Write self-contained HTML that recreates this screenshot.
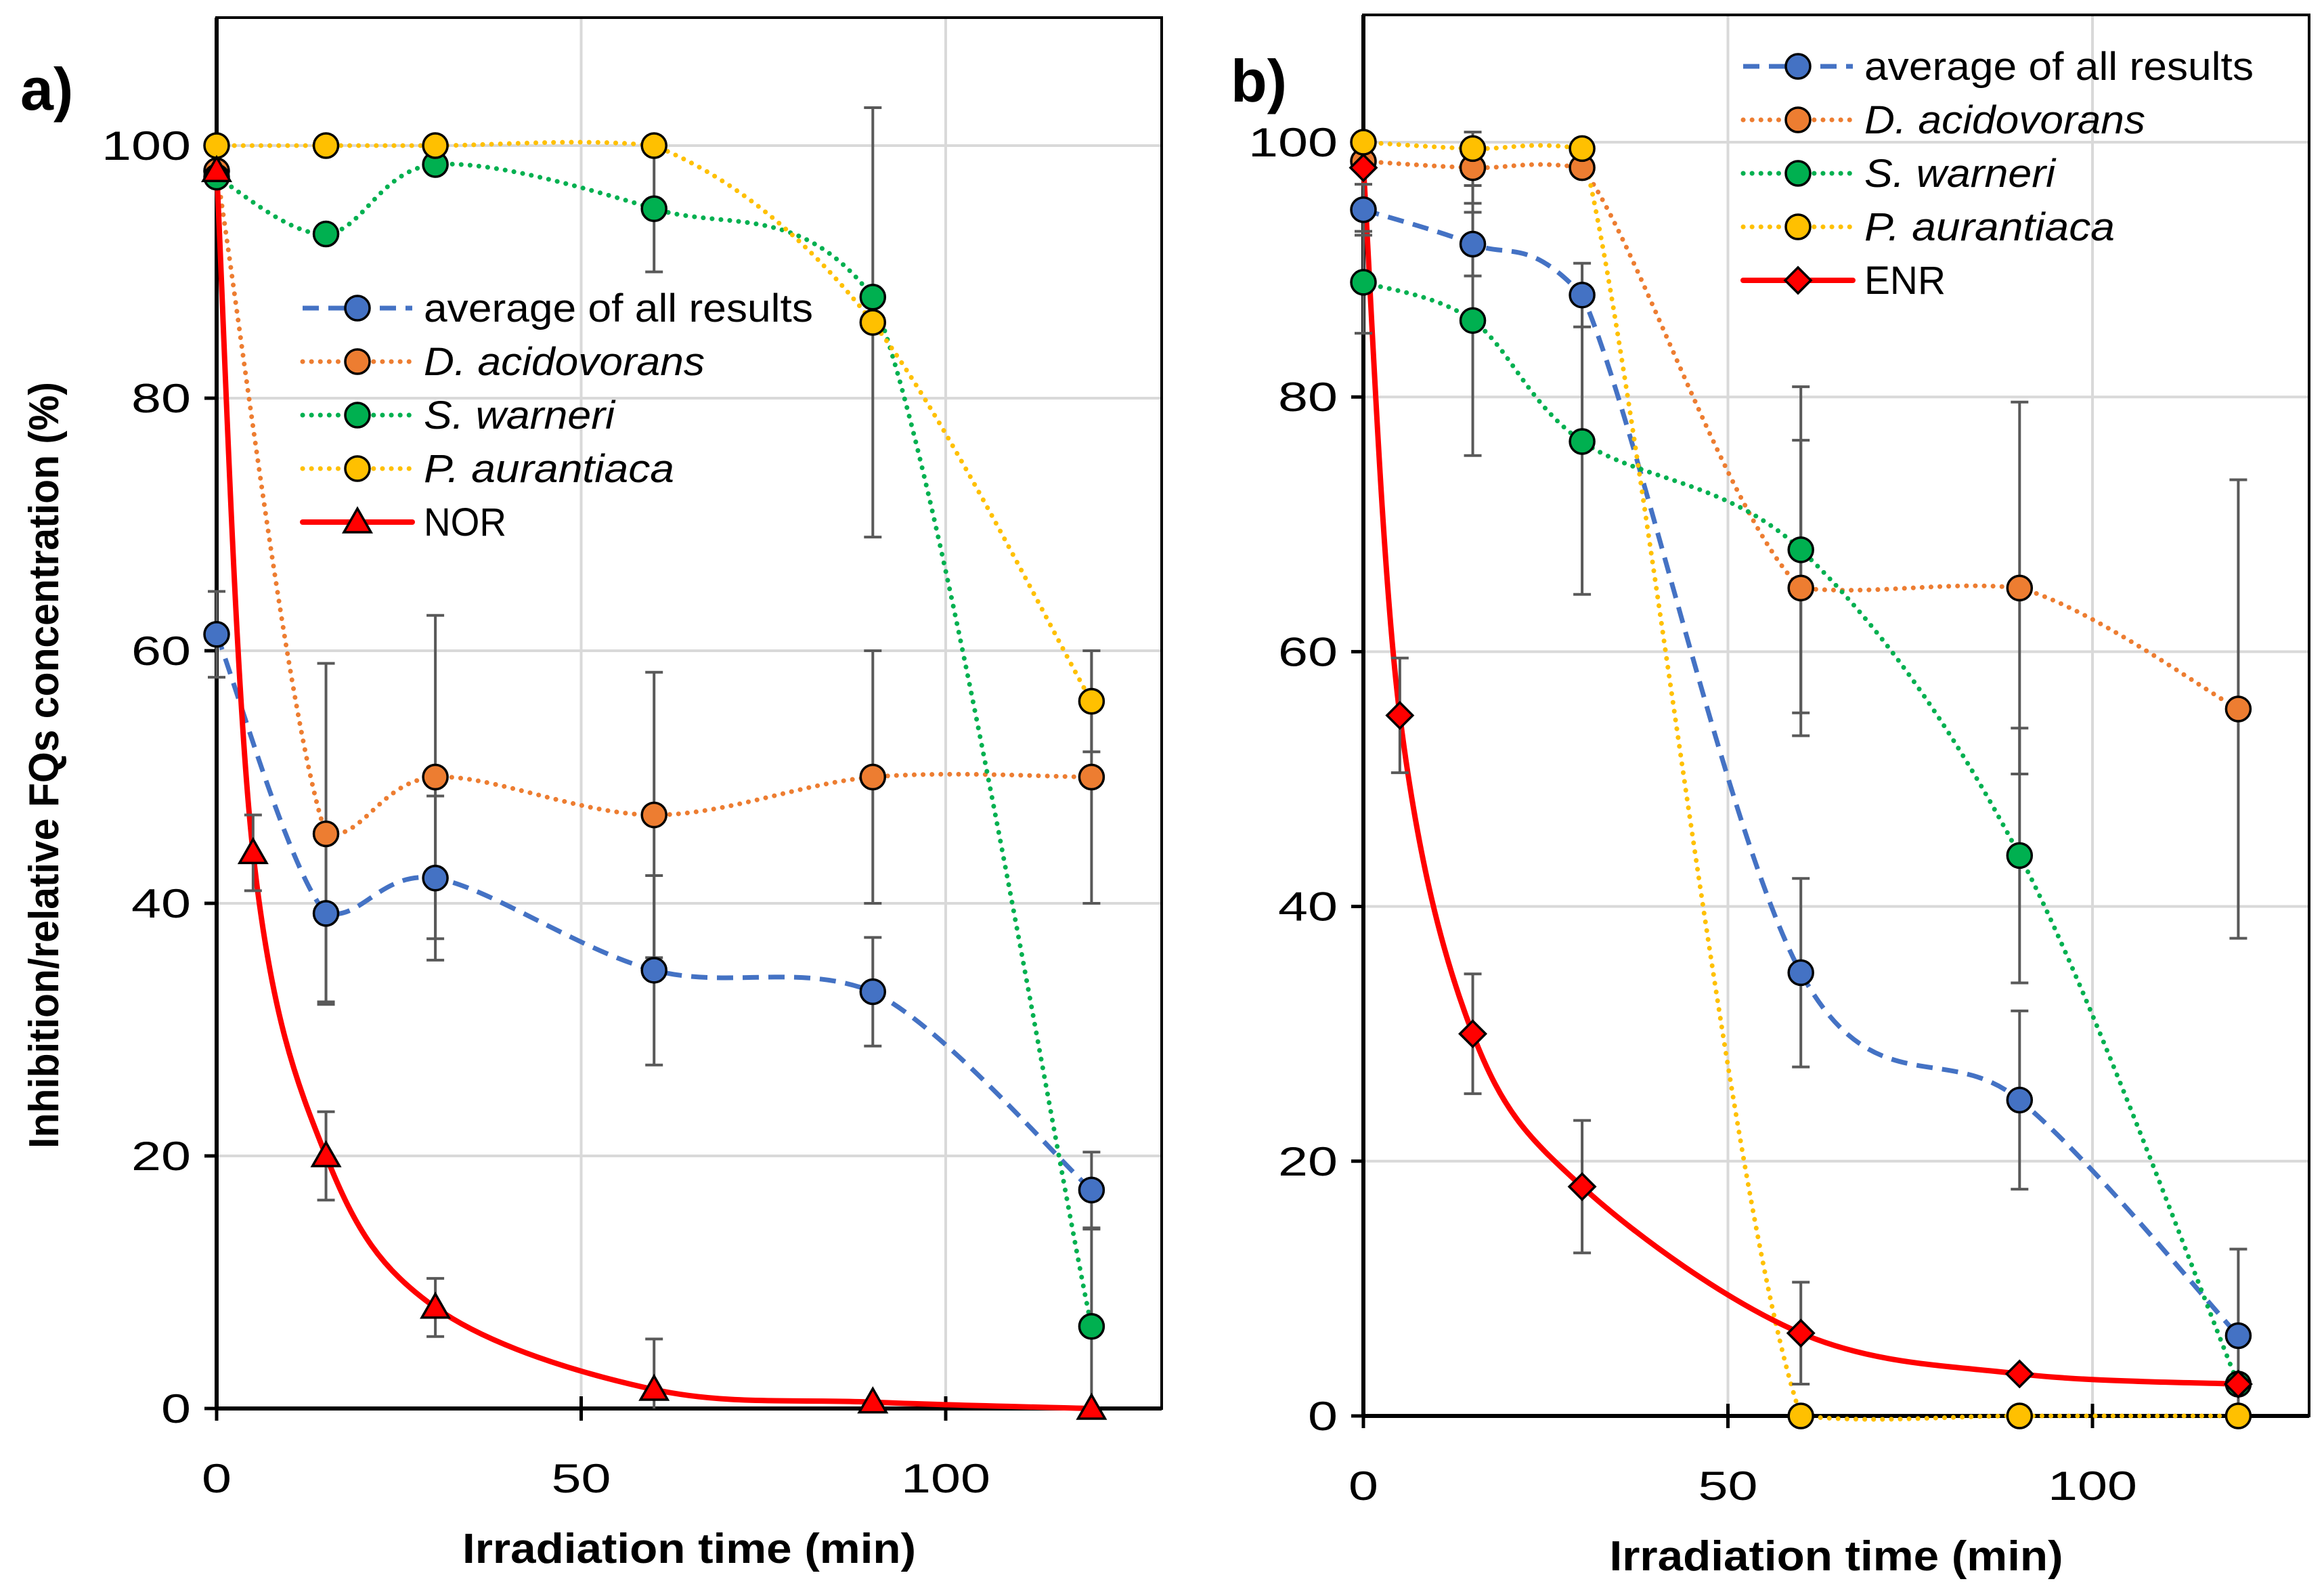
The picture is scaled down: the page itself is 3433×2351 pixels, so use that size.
<!DOCTYPE html>
<html><head><meta charset="utf-8"><style>
html,body{margin:0;padding:0;background:#fff}
svg{display:block}
text{font-family:"Liberation Sans","DejaVu Sans",sans-serif}
</style></head><body>
<svg id="chart" width="3433" height="2351" viewBox="0 0 3433 2351" xmlns="http://www.w3.org/2000/svg">
<rect x="0" y="0" width="3433" height="2351" fill="#fff"/>
</svg>
<script>
const timesMain = [0,15,30,60,90,120];
const timesDrug = [0,5,15,30,60,90,120];
const xTicks = [0,50,100];
const yTicks = [0,20,40,60,80,100];
// Panel a
const aAvg = [61.3,39.2,42,34.7,33,17.3];
const aAvgErr = [3.4,7,6.5,7.5,4.3,3];
const aDac = [98,45.5,50,47,50,50];
const aDacErr = [0,13.5,12.8,11.3,10,10];
const aSwa = [97.5,93,98.5,95,88,6.5];
const aSwaErr = [0,0,0,5,0,7.7];
const aPau = [100,100,100,100,86,56];
const aPauErr = [0,0,0,0,17,4];
const aNor = [98,44,20,8,1.5,0.5,0];
const aNorErr = [0,3,3.5,2.3,4,0,0];
// Panel b
const bAvg = [94.7,92,88,34.8,24.8,6.3];
const bAvgErr = [2,2.5,2.5,7.4,7,6.8];
const bDac = [98.5,98,98,65,65,55.5];
const bDacErr = [0,2.8,0,11.6,14.6,18];
const bSwa = [89,86,76.5,68,44,2.5];
const bSwaErr = [4,10.6,12,12.8,10,0];
const bPau = [100,99.5,99.5,0,0,0];
const bPauErr = [0,0,0,0,0,0];
const bEnr = [98,55,30,18,6.5,3.3,2.5];
const bEnrErr = [0,4.5,4.7,5.2,4,0,0];

const NS='http://www.w3.org/2000/svg';
const svg=document.getElementById('chart');
function mk(tag,attrs,parent){const e=document.createElementNS(NS,tag);for(const k in attrs)e.setAttribute(k,attrs[k]);(parent||svg).appendChild(e);return e;}
function smooth(pts,allow){let d='M'+pts[0][0]+','+pts[0][1];
 const cl=(v,a,b)=>Math.max(Math.min(a,b)-allow,Math.min(Math.max(a,b)+allow,v));
 for(let i=0;i<pts.length-1;i++){const p0=pts[i-1]||pts[i],p1=pts[i],p2=pts[i+1],p3=pts[i+2]||p2;
  const c1=[p1[0]+(p2[0]-p0[0])/6,cl(p1[1]+(p2[1]-p0[1])/6,p1[1],p2[1])],c2=[p2[0]-(p3[0]-p1[0])/6,cl(p2[1]-(p3[1]-p1[1])/6,p1[1],p2[1])];
  d+=' C'+c1[0]+','+c1[1]+' '+c2[0]+','+c2[1]+' '+p2[0]+','+p2[1];}
 return d;}
const styles={
 avg:{color:'#4472C4',dash:'24 14',cap:'butt',w:7,marker:'circle'},
 dac:{color:'#ED7D31',dash:'0.1 13',cap:'round',w:7,marker:'circle'},
 swa:{color:'#00B050',dash:'0.1 13',cap:'round',w:7,marker:'circle'},
 pau:{color:'#FFC000',dash:'0.1 13',cap:'round',w:7,marker:'circle'},
 nor:{color:'#FF0000',dash:'',cap:'round',w:8,marker:'triangle'},
 enr:{color:'#FF0000',dash:'',cap:'round',w:8,marker:'diamond'}
};
function marker(g,type,x,y,color,name){let m;
 if(type==='circle')m=mk('circle',{cx:x,cy:y,r:18,fill:color,stroke:'#000','stroke-width':3.5},g);
 else if(type==='triangle')m=mk('polygon',{points:(x)+','+(y-20)+' '+(x+20)+','+(y+15)+' '+(x-20)+','+(y+15),fill:color,stroke:'#000','stroke-width':3.5},g);
 else m=mk('polygon',{points:x+','+(y-19)+' '+(x+19)+','+y+' '+x+','+(y+19)+' '+(x-19)+','+y,fill:color,stroke:'#000','stroke-width':3.5},g);
 
 
 return m;}

function panel(cfg){
 const X=v=>cfg.x0+(v/100)*(cfg.x100-cfg.x0);
 const Y=v=>cfg.y0+(v/100)*(cfg.y100-cfg.y0);
 const g=mk('g',{});
 
 
 const cp=mk('clipPath',{id:'clip-'+cfg.id},g);
 mk('rect',{x:cfg.x0-30,y:cfg.top,width:cfg.right-cfg.x0+30,height:cfg.y0-cfg.top},cp);
 yTicks.forEach(t=>{if(t===0)return;const l=mk('line',{x1:cfg.x0,x2:cfg.right,y1:Y(t),y2:Y(t),stroke:'#d9d9d9','stroke-width':4},g);
  
  });
 xTicks.forEach(t=>{if(t===0)return;const l=mk('line',{x1:X(t),x2:X(t),y1:cfg.top,y2:cfg.y0,stroke:'#d9d9d9','stroke-width':4},g);
  
  });
 const fr=mk('rect',{x:cfg.x0,y:cfg.top,width:cfg.right-cfg.x0,height:cfg.y0-cfg.top,fill:'none',stroke:'#000','stroke-width':4},g);
 
 
 const xa=mk('line',{x1:cfg.x0,x2:cfg.right,y1:cfg.y0,y2:cfg.y0,stroke:'#000','stroke-width':6},g);
 
 
 const ya=mk('line',{x1:cfg.x0,x2:cfg.x0,y1:cfg.top,y2:cfg.y0,stroke:'#000','stroke-width':6},g);
 
 
 yTicks.forEach(t=>{const tk=mk('line',{x1:cfg.x0-18,x2:cfg.x0,y1:Y(t),y2:Y(t),stroke:'#000','stroke-width':5},g);
  
  
  const s=String(t);
  const tx=mk('text',{x:cfg.x0-38,y:Y(t)+21,'text-anchor':'end','font-size':60,fill:'#000',textLength:s.length*44,lengthAdjust:'spacingAndGlyphs'},g);tx.textContent=s;
  
  });
 xTicks.forEach(t=>{const tk=mk('line',{x1:X(t),x2:X(t),y1:cfg.y0-18,y2:cfg.y0+18,stroke:'#000','stroke-width':5},g);
  
  
  const s=String(t);
  const tx=mk('text',{x:X(t),y:cfg.y0+124,'text-anchor':'middle','font-size':60,fill:'#000',textLength:s.length*44,lengthAdjust:'spacingAndGlyphs'},g);tx.textContent=s;
  
  });
 const xt=mk('text',{x:(cfg.x0+cfg.right)/2,y:cfg.y0+228,'text-anchor':'middle','font-size':62,'font-weight':'bold',textLength:670,lengthAdjust:'spacingAndGlyphs'},g);
 xt.textContent='Irradiation time (min)';
 
 
 const pl=mk('text',{x:cfg.labelX,y:cfg.labelY,'font-size':88,'font-weight':'bold'},g);
 pl.textContent=cfg.label;
 
 
 const allow=(cfg.y0-cfg.y100)*0.006;
 cfg.series.forEach(s=>{const st=styles[s.key];const pts=s.t.map((t,i)=>[X(t),Y(s.v[i])]);
  const p=mk('path',{d:smooth(pts,allow),fill:'none',stroke:st.color,'stroke-width':st.w,'stroke-dasharray':st.dash,'stroke-linecap':st.cap},g);
  
  });
 const eg=mk('g',{'clip-path':'url(#clip-'+cfg.id+')'},g);
 
 
 cfg.series.forEach(s=>{s.t.forEach((t,i)=>{const e=s.e[i];if(!e)return;const x=X(t),y1=Y(s.v[i]+e),y2=Y(s.v[i]-e);
  const eb=mk('path',{d:'M'+x+','+y1+' V'+y2+' M'+(x-13)+','+y1+' H'+(x+13)+' M'+(x-13)+','+y2+' H'+(x+13),stroke:'#595959','stroke-width':4,fill:'none'},eg);
  
  });});
 cfg.series.forEach(s=>{const st=styles[s.key];s.t.forEach((t,i)=>{marker(g,st.marker,X(t),Y(s.v[i]),st.color,cfg.id+'-'+s.key+'-point');});});
 cfg.legend.forEach((L,i)=>{const st=styles[L.key];const y=cfg.legY+i*79;
  const lg=mk('g',{},g);
  
  
  mk('line',{x1:cfg.legX,x2:cfg.legX+162,y1:y,y2:y,stroke:st.color,'stroke-width':st.w,'stroke-dasharray':st.dash,'stroke-linecap':st.cap},lg);
  marker(lg,st.marker,cfg.legX+81,y,st.color,'legend-marker');
  const tx=mk('text',{x:cfg.legX+179,y:y+20,'font-size':58,'font-style':L.italic?'italic':'normal',textLength:L.w,lengthAdjust:'spacingAndGlyphs'},lg);
  tx.textContent=L.text;});
}
panel({id:'a',x0:320,x100:1397,right:1716,y0:2080,y100:215,top:26,label:'a)',labelX:30,labelY:162,legX:447,legY:455,
 series:[{key:'avg',t:timesMain,v:aAvg,e:aAvgErr},{key:'dac',t:timesMain,v:aDac,e:aDacErr},{key:'swa',t:timesMain,v:aSwa,e:aSwaErr},{key:'pau',t:timesMain,v:aPau,e:aPauErr},{key:'nor',t:timesDrug,v:aNor,e:aNorErr}],
 legend:[{key:'avg',text:'average of all results',w:575},{key:'dac',text:'D. acidovorans',w:415,italic:1},{key:'swa',text:'S. warneri',w:282,italic:1},{key:'pau',text:'P. aurantiaca',w:370,italic:1},{key:'nor',text:'NOR',w:122}]});
panel({id:'b',x0:2014,x100:3091,right:3411,y0:2091,y100:210,top:22,label:'b)',labelX:1818,labelY:150,legX:2575,legY:98,
 series:[{key:'avg',t:timesMain,v:bAvg,e:bAvgErr},{key:'dac',t:timesMain,v:bDac,e:bDacErr},{key:'swa',t:timesMain,v:bSwa,e:bSwaErr},{key:'pau',t:timesMain,v:bPau,e:bPauErr},{key:'enr',t:timesDrug,v:bEnr,e:bEnrErr}],
 legend:[{key:'avg',text:'average of all results',w:575},{key:'dac',text:'D. acidovorans',w:415,italic:1},{key:'swa',text:'S. warneri',w:282,italic:1},{key:'pau',text:'P. aurantiaca',w:370,italic:1},{key:'enr',text:'ENR',w:120}]});
const yt=mk('text',{x:0,y:0,transform:'translate(86,1130) rotate(-90)','text-anchor':'middle','font-size':62,'font-weight':'bold',textLength:1132,lengthAdjust:'spacingAndGlyphs'});
yt.textContent='Inhibition/relative FQs concentration (%)';


</script>
</body></html>
